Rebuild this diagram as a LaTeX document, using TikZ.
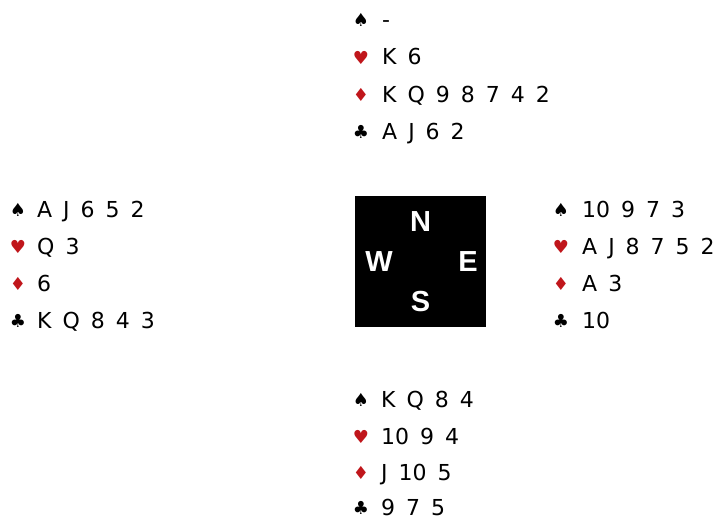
\documentclass[tikz,border=0pt]{standalone}
\usepackage{fontspec}
\setmainfont{DejaVu Sans}
\newfontfamily\suitfont{DejaVu Sans}
\newfontfamily\compassfont{Liberation Sans}
\definecolor{suitred}{HTML}{C0161B}
\newcommand\cardrow[1]{{\spaceskip=11pt plus 0pt minus 0pt\relax #1}}
\tikzset{
  cards/.style={anchor=base west, inner sep=0pt, font=\fontsize{22}{26}\selectfont},
  suit/.style={anchor=base, inner sep=0pt, font=\suitfont\fontsize{18}{20}\selectfont},
  redsuit/.style={suit, text=suitred},
  compass/.style={text=white, inner sep=0pt, font=\compassfont\bfseries\fontsize{29}{30}\selectfont}
}
\begin{document}
\begin{tikzpicture}[x=1pt,y=-1pt]
\useasboundingbox (0,0) rectangle (725,519);
% compass box
\fill[black] (355,196) rectangle (486,327);
\node[compass] (cN) at (420.5,221.5) {N};
\node[compass] (cW) at (379,262) {W};
\node[compass] (cE) at (468,262) {E};
\node[compass] (cS) at (420.5,302) {S};
% North
\node[suit] (ns) at (361,27) {♠};
\node[cards] (nst) at (382,28) {-};
\node[redsuit] (nh) at (361,64) {♥};
\node[cards] (nht) at (382,65) {\cardrow{K 6}};
\node[redsuit] (nd) at (361,101) {♦};
\node[cards] (ndt) at (382,102) {\cardrow{K Q 9 8 7 4 2}};
\node[suit] (nc) at (361,138) {♣};
\node[cards] (nct) at (382,139) {\cardrow{A J 6 2}};
% West
\node[suit] (ws) at (18,216) {♠};
\node[cards] (wst) at (37,217) {\cardrow{A J 6 5 2}};
\node[redsuit] (wh) at (18,253) {♥};
\node[cards] (wht) at (37,254) {\cardrow{Q 3}};
\node[redsuit] (wd) at (18,290) {♦};
\node[cards] (wdt) at (37,291) {\cardrow{6}};
\node[suit] (wc) at (18,327) {♣};
\node[cards] (wct) at (37,328) {\cardrow{K Q 8 4 3}};
% East
\node[suit] (es) at (561,216) {♠};
\node[cards] (est) at (582,217) {\cardrow{10 9 7 3}};
\node[redsuit] (eh) at (561,253) {♥};
\node[cards] (eht) at (582,254) {\cardrow{A J 8 7 5 2}};
\node[redsuit] (ed) at (561,290) {♦};
\node[cards] (edt) at (582,291) {\cardrow{A 3}};
\node[suit] (ec) at (561,327) {♣};
\node[cards] (ect) at (582,328) {\cardrow{10}};
% South
\node[suit] (ss) at (361,406) {♠};
\node[cards] (sst) at (381,407) {\cardrow{K Q 8 4}};
\node[redsuit] (sh) at (361,443) {♥};
\node[cards] (sht) at (381,444) {\cardrow{10 9 4}};
\node[redsuit] (sd) at (361,479) {♦};
\node[cards] (sdt) at (381,480) {\cardrow{J 10 5}};
\node[suit] (sc) at (361,514) {♣};
\node[cards] (sct) at (381,515) {\cardrow{9 7 5}};
\end{tikzpicture}
\end{document}
